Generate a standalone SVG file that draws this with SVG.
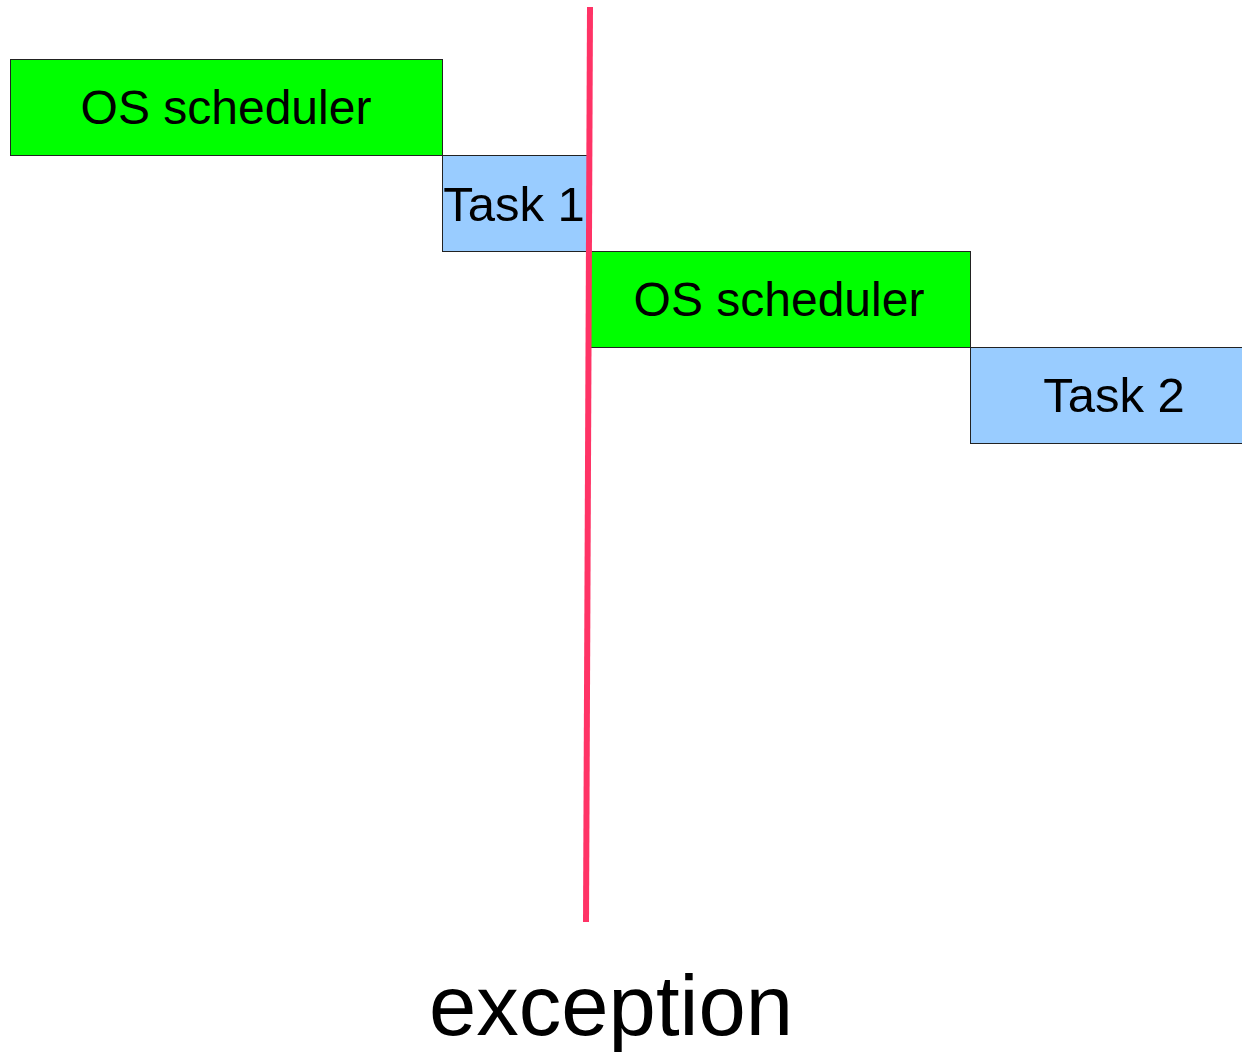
<svg xmlns="http://www.w3.org/2000/svg" width="1242" height="1052" viewBox="0 0 1242 1052">
<style>
.os{fill:#00ff00;stroke:#222;stroke-width:1}
.task{fill:#99ccff;stroke:#222;stroke-width:1}
.lbl{font-family:"Liberation Sans",Arial,sans-serif;font-size:48px;fill:#000;text-anchor:middle}
.tl{font-size:49px}
</style>
<rect width="1242" height="1052" fill="#fff"/>
<g id="os1"><rect class="os" x="10.5" y="59.5" width="432" height="96"/><text class="lbl" x="226" y="124">OS scheduler</text></g>
<g id="task1"><rect class="task" x="442.5" y="155.5" width="146" height="96"/><text class="lbl tl" x="514" y="221">Task 1</text></g>
<g id="os2"><rect class="os" x="588.5" y="251.5" width="382" height="96"/><text class="lbl" x="779" y="316">OS scheduler</text></g>
<g id="task2"><rect class="task" x="970.5" y="347.5" width="290" height="96"/><text class="lbl tl" x="1114" y="412">Task 2</text></g>
<g id="connectors"><line x1="590" y1="7" x2="586" y2="922" stroke="#ff3366" stroke-width="6"/></g>
<g id="exception"><text x="611" y="1035" font-family="Liberation Sans, Arial, sans-serif" font-size="85" text-anchor="middle" fill="#000">exception</text></g>
</svg>
